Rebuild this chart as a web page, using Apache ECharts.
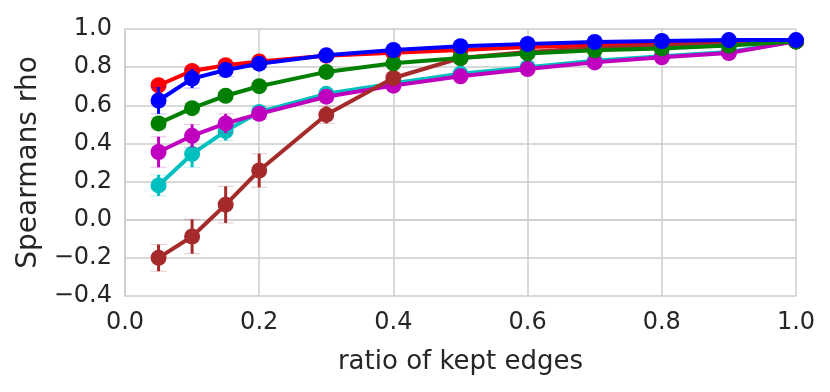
<!DOCTYPE html>
<html>
<head>
<meta charset="utf-8">
<style>
body { margin: 0; background: #fff; }
#chart { width: 830px; height: 392px; }
</style>
<script src="https://cdn.jsdelivr.net/npm/echarts@6/dist/echarts.min.js"></script>
</head>
<body>
<div id="chart"></div>
<script>
// ratio of kept edges
const ratios = [0.05, 0.1, 0.15, 0.2, 0.3, 0.4, 0.5, 0.6, 0.7, 0.8, 0.9, 1.0];

// spearman rho per method, with error half-widths
const redVals = [0.705, 0.78, 0.81, 0.83, 0.86, 0.875, 0.89, 0.905, 0.915, 0.925, 0.93, 0.935];
const redErr = [0.02, 0.02, 0.02, 0.015, 0.01, 0.01, 0.01, 0.01, 0.005, 0.005, 0.005, 0];
const cyanVals = [0.18, 0.345, 0.465, 0.565, 0.66, 0.715, 0.765, 0.80, 0.833, 0.857, 0.88, 0.935];
const cyanErr = [0.055, 0.07, 0.05, 0.03, 0.02, 0.015, 0.01, 0.01, 0.005, 0.005, 0.005, 0];
const magentaVals = [0.355, 0.44, 0.505, 0.555, 0.645, 0.703, 0.752, 0.79, 0.825, 0.852, 0.874, 0.935];
const magentaErr = [0.08, 0.06, 0.05, 0.03, 0.015, 0.01, 0.01, 0.01, 0.005, 0.005, 0.005, 0];
const brownVals = [-0.2, -0.088, 0.079, 0.258, 0.55, 0.743, 0.848, 0.88, 0.90, 0.912, 0.922, 0.935];
const brownErr = [0.07, 0.09, 0.096, 0.088, 0.045, 0.025, 0.015, 0.01, 0.005, 0.005, 0.005, 0];
const greenVals = [0.505, 0.585, 0.65, 0.70, 0.775, 0.82, 0.848, 0.872, 0.888, 0.898, 0.913, 0.935];
const greenErr = [0.03, 0.025, 0.02, 0.015, 0.01, 0.01, 0.005, 0.005, 0.005, 0.005, 0.005, 0];
const blueVals = [0.625, 0.74, 0.785, 0.818, 0.862, 0.89, 0.91, 0.922, 0.932, 0.937, 0.942, 0.942];
const blueErr = [0.07, 0.05, 0.035, 0.02, 0.01, 0.01, 0.005, 0.005, 0.005, 0.005, 0.005, 0];

const xTicks = ['0.0', '0.2', '0.4', '0.6', '0.8', '1.0'];

const groups = [
  { name: 'red', color: '#ff0000', vals: redVals, err: redErr },
  { name: 'cyan', color: '#00bfbf', vals: cyanVals, err: cyanErr },
  { name: 'magenta', color: '#bf00bf', vals: magentaVals, err: magentaErr },
  { name: 'brown', color: '#a52a2a', vals: brownVals, err: brownErr },
  { name: 'green', color: '#008000', vals: greenVals, err: greenErr },
  { name: 'blue', color: '#0000ff', vals: blueVals, err: blueErr }
];

const FONT = 'DejaVu Sans';

function fmt(v) {
  const s = (Math.abs(v) < 1e-9 ? 0 : v).toFixed(1);
  return s.replace('-', '\u2212');
}

const series = [];
groups.forEach((g, i) => {
  const errData = ratios.map((x, k) => [x, g.vals[k] - g.err[k], g.vals[k] + g.err[k]]);
  series.push({
    type: 'custom',
    name: g.name + '-err',
    z: 2 + i * 2,
    silent: true,
    data: errData,
    encode: { x: 0, y: [1, 2] },
    renderItem: (params, api) => {
      const lo = api.coord([api.value(0), api.value(1)]);
      const hi = api.coord([api.value(0), api.value(2)]);
      const cw = 8;
      return {
        type: 'group',
        children: [
          { type: 'line', shape: { x1: lo[0], y1: lo[1], x2: hi[0], y2: hi[1] },
            style: { stroke: g.color, lineWidth: 3 } },
          { type: 'line', shape: { x1: lo[0] - cw, y1: lo[1], x2: lo[0] + cw, y2: lo[1] },
            style: { stroke: g.color, lineWidth: 1, opacity: 0.25 } },
          { type: 'line', shape: { x1: hi[0] - cw, y1: hi[1], x2: hi[0] + cw, y2: hi[1] },
            style: { stroke: g.color, lineWidth: 1, opacity: 0.25 } }
        ]
      };
    }
  });
  series.push({
    type: 'line',
    name: g.name,
    z: 3 + i * 2,
    data: ratios.map((x, k) => [x, g.vals[k]]),
    symbol: 'circle',
    symbolSize: 16,
    showAllSymbol: true,
    itemStyle: { color: g.color, borderWidth: 0 },
    lineStyle: { color: g.color, width: 4 },
    emphasis: { disabled: true },
    animation: false
  });
});

const chart = echarts.init(document.getElementById('chart'), null, { renderer: 'canvas' });
chart.setOption({
  animation: false,
  backgroundColor: '#fff',
  grid: { left: 125, right: 34, top: 29, bottom: 96, containLabel: false },
  xAxis: {
    type: 'value',
    min: 0, max: 1, interval: 0.2,
    name: 'ratio of kept edges',
    nameLocation: 'middle',
    nameGap: 53,
    nameTextStyle: { fontFamily: FONT, fontSize: 26, color: '#262626' },
    axisLine: { show: true, lineStyle: { color: '#cccccc', width: 1.5 } },
    axisTick: { show: false },
    axisLabel: { fontFamily: FONT, fontSize: 24, color: '#262626', margin: 15,
      formatter: v => xTicks[Math.round(v / 0.2)] },
    splitLine: { show: true, lineStyle: { color: '#cccccc', width: 1.5 } }
  },
  yAxis: {
    type: 'value',
    min: -0.4, max: 1.0, interval: 0.2,
    name: 'Spearmans rho',
    nameLocation: 'middle',
    nameGap: 79,
    nameTextStyle: { fontFamily: FONT, fontSize: 28, color: '#262626' },
    axisLine: { show: true, lineStyle: { color: '#cccccc', width: 1.5 } },
    axisTick: { show: false },
    axisLabel: { fontFamily: FONT, fontSize: 24, color: '#262626', margin: 13, formatter: fmt },
    splitLine: { show: true, lineStyle: { color: '#cccccc', width: 1.5 } }
  },
  series: series
});
</script>
</body>
</html>
